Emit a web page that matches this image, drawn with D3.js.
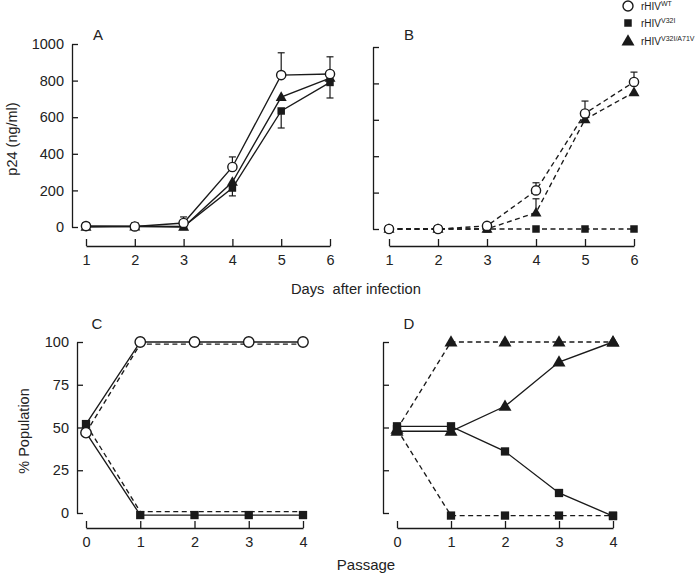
<!DOCTYPE html>
<html><head><meta charset="utf-8">
<script src="https://cdn.jsdelivr.net/npm/d3@7"></script>
<style>body{margin:0;background:#fff} svg{font-family:"Liberation Sans",Arial,Helvetica,sans-serif}</style>
</head><body><svg id="c" width="700" height="575"></svg>
<script>
// ---------- data ----------
const days = [1, 2, 3, 4, 5, 6];
const passages = [0, 1, 2, 3, 4];
const p24Ticks = [0, 200, 400, 600, 800, 1000];
const popTicks = [0, 25, 50, 75, 100];

// Panel A (solid)
const aWT = [5, 3, 22, 328, 830, 836];
const aV32I = [5, 5, 3, 213, 634, 790];
const aV32IA71V = [0, 2, 0, 246, 710, 814];
const aWTerrUp = [null, null, 55, 383, 952, 930];
const aV32IerrDown = [null, null, null, 170, 541, 705];

// Panel B (dashed)
const bWT = [0, 0, 17, 212, 635, 808];
const bV32I = [0, 0, 0, 0, 0, 0];
const bV32IA71V = [0, 0, 0, 90, 602, 751];
const bWTerrUp = [null, null, null, 254, 703, 862];
const bV32IA71VerrUp = [null, null, null, 166, null, null];

// Panel C
const cWTsolid = [52, 100, 100, 100, 100];
const cV32Isolid = [47, -1.2, -1.2, -1.2, -1.2];
const cWTdashed = [47, 98.8, 98.8, 98.8, 98.8];
const cV32Idashed = [52, 0.8, 0.8, 0.8, 0.8];

// Panel D
const dV32Isolid = [50.7, 50.7, 36, 11.7, -1.8];
const dV32IA71Vsolid = [47.8, 47.8, 62.4, 88.3, 100];
const dV32Idashed = [49, -1.5, -1.5, -1.5, -1.5];
const dV32IA71Vdashed = [49, 100, 100, 100, 100];

const legendLabels = [["rHIV", "WT"], ["rHIV", "V32I"], ["rHIV", "V32I/A71V"]];

// ---------- drawing ----------
const svg = d3.select("#c");
const INK = "#1a1a1a";

function panel(o) {
  const g = svg.append("g");
  const x = d3.scaleLinear().domain(o.xDomain).range(o.xRange);
  const y = d3.scaleLinear().domain(o.yDomain).range(o.yRange);
  const ya = d3.axisLeft(y).tickValues(o.yTicks).tickSizeInner(-6).tickSizeOuter(0).tickPadding(8)
    .tickFormat(o.yLabels ? d3.format("d") : () => "");
  const yg = g.append("g").attr("transform", `translate(${o.yAxisX},0)`).call(ya);
  const xa = d3.axisBottom(x).tickValues(o.xTicks).tickSizeInner(-7).tickSizeOuter(0).tickPadding(9)
    .tickFormat(d3.format("d"));
  const xg = g.append("g").attr("transform", `translate(0,${o.xAxisY})`).call(xa);
  [yg, xg].forEach(a => {
    a.select(".domain").attr("stroke", INK).attr("stroke-width", 1.3);
    a.selectAll(".tick line").attr("stroke", INK).attr("stroke-width", 1.3);
    a.selectAll(".tick text").attr("fill", "#222").style("font-size", "14.5px");
  });
  g.append("text").attr("x", o.letterX).attr("y", o.letterY).attr("text-anchor", "middle")
    .style("font-size", "15px").attr("fill", "#222").text(o.letter);

  const xs = o.xs;
  const lineGen = vals => d3.line().x((d, i) => x(xs[i])).y(d => y(d))(vals);
  o.series.forEach(s => {
    g.append("path").attr("d", lineGen(s.values)).attr("fill", "none")
      .attr("stroke", INK).attr("stroke-width", 1.35)
      .attr("stroke-dasharray", s.dashed ? "5,3.5" : null);
  });
  (o.errors || []).forEach(e => {
    e.ends.forEach((v, i) => {
      if (v == null) return;
      const cx = x(xs[i]);
      g.append("line").attr("x1", cx).attr("x2", cx).attr("y1", y(e.values[i])).attr("y2", y(v))
        .attr("stroke", INK).attr("stroke-width", 1.2);
      g.append("line").attr("x1", cx - 3.5).attr("x2", cx + 3.5).attr("y1", y(v)).attr("y2", y(v))
        .attr("stroke", INK).attr("stroke-width", 1.2);
    });
  });
  // markers (squares, then triangles, then circles on top)
  ["square", "triangle", "circle"].forEach(type => {
    o.series.forEach(s => {
      if (s.marker !== type) return;
      s.values.forEach((v, i) => {
        if (s.at && !s.at.includes(i)) return;
        drawMarker(g, s.marker, x(xs[i]), y(v), o.msize);
      });
    });
  });
}

function drawMarker(g, type, cx, cy, sz) {
  if (type === "circle") {
    g.append("circle").attr("cx", cx).attr("cy", cy).attr("r", sz.r)
      .attr("fill", "#fff").attr("stroke", INK).attr("stroke-width", 1.4);
  } else if (type === "square") {
    g.append("path").attr("transform", `translate(${cx},${cy})`)
      .attr("d", d3.symbol(d3.symbolSquare, sz.sq * sz.sq)()).attr("fill", INK);
  } else {
    const w = sz.tri, h = sz.tri * 0.87;
    g.append("path").attr("transform", `translate(${cx},${cy})`)
      .attr("d", `M0,${-h * 0.6}L${w / 2},${h * 0.4}L${-w / 2},${h * 0.4}Z`).attr("fill", INK);
  }
}

const smallM = {r: 4.6, sq: 7.5, tri: 11};
const bigM = {r: 5.2, sq: 8.3, tri: 13};

panel({
  xDomain: [1, 6], xRange: [86, 330], yDomain: [0, 1000], yRange: [227, 44],
  yAxisX: 72, xAxisY: 246, yTicks: p24Ticks, xTicks: days, yLabels: true,
  letter: "A", letterX: 98, letterY: 40, xs: days, msize: smallM,
  series: [
    {values: aV32I, marker: "square"},
    {values: aV32IA71V, marker: "triangle"},
    {values: aWT, marker: "circle"}
  ],
  errors: [
    {values: aWT, ends: aWTerrUp},
    {values: aV32I, ends: aV32IerrDown}
  ]
});

panel({
  xDomain: [1, 6], xRange: [389, 634], yDomain: [0, 1000], yRange: [229, 47],
  yAxisX: 373, xAxisY: 246, yTicks: p24Ticks, xTicks: days, yLabels: false,
  letter: "B", letterX: 409, letterY: 40, xs: days, msize: smallM,
  series: [
    {values: bV32I, marker: "square", dashed: true},
    {values: bV32IA71V, marker: "triangle", dashed: true},
    {values: bWT, marker: "circle", dashed: true}
  ],
  errors: [
    {values: bWT, ends: bWTerrUp},
    {values: bV32IA71V, ends: bV32IA71VerrUp}
  ]
});

panel({
  xDomain: [0, 4], xRange: [86, 303], yDomain: [0, 100], yRange: [513, 342],
  yAxisX: 77, xAxisY: 528, yTicks: popTicks, xTicks: passages, yLabels: true,
  letter: "C", letterX: 97, letterY: 329, xs: passages, msize: bigM,
  series: [
    {values: cWTdashed, dashed: true, marker: "circle", at: [0]},
    {values: cV32Idashed, dashed: true, marker: "square", at: [0]},
    {values: cV32Isolid, marker: "square", at: [1, 2, 3, 4]},
    {values: cWTsolid, marker: "circle", at: [1, 2, 3, 4]}
  ]
});

panel({
  xDomain: [0, 4], xRange: [397, 613], yDomain: [0, 100], yRange: [513, 342],
  yAxisX: 383, xAxisY: 528, yTicks: popTicks, xTicks: passages, yLabels: false,
  letter: "D", letterX: 409, letterY: 329, xs: passages, msize: bigM,
  series: [
    {values: dV32Idashed, marker: "square", dashed: true},
    {values: dV32IA71Vdashed, marker: "triangle", dashed: true},
    {values: dV32Isolid, marker: "square"},
    {values: dV32IA71Vsolid, marker: "triangle"}
  ]
});

// axis titles
svg.append("text").attr("transform", "translate(17,139) rotate(-90)").attr("text-anchor", "middle")
  .style("font-size", "14.5px").attr("fill", "#222").text("p24 (ng/ml)");
svg.append("text").attr("transform", "translate(29,431) rotate(-90)").attr("text-anchor", "middle")
  .style("font-size", "14.5px").attr("fill", "#222").text("% Population");
svg.append("text").attr("x", 291).attr("y", 294).style("font-size", "14.7px").attr("fill", "#222")
  .style("white-space", "pre").text("Days  after infection");
svg.append("text").attr("x", 366).attr("y", 570).attr("text-anchor", "middle").style("font-size", "15px")
  .attr("fill", "#222").text("Passage");

// legend
const lg = svg.append("g");
const legMarkers = ["circle", "square", "triangle"];
const legY = [6, 23, 41];
const legSize = {r: 5, sq: 7.5, tri: 13};
legMarkers.forEach((m, i) => {
  drawMarker(lg, m, 628, legY[i], legSize);
  const t = lg.append("text").attr("x", 641).attr("y", legY[i] + 4).style("font-size", "10px").attr("fill", "#222");
  t.append("tspan").text(legendLabels[i][0]);
  t.append("tspan").attr("dy", -4).style("font-size", "7px").text(legendLabels[i][1]);
});
</script></body></html>
